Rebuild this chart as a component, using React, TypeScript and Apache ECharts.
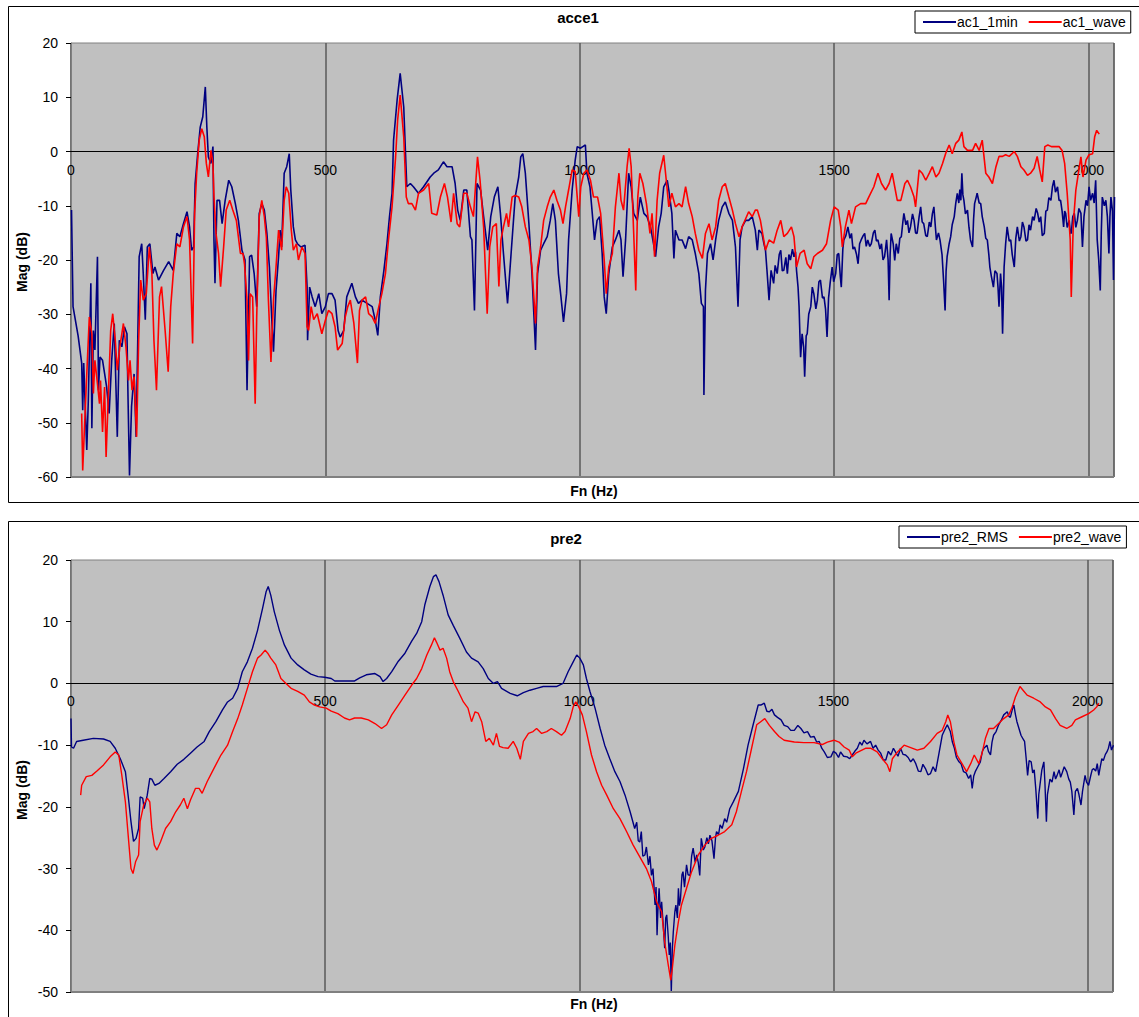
import React, { useEffect, useRef } from "react";
import * as echarts from "echarts";

// ---------- DATA (frequency Hz, magnitude dB) ----------
const freqTicks = [0, 500, 1000, 1500, 2000];

const ac1MinData: number[][] = [
  [1,-10.8],[4,-28.6],[14,-34],[21,-39],[23,-47.7],[25,-39],[31,-55],[34,-46],[39,-24.3],[41,-51],[44,-33],[47,-36.6],[52,-19.4],[54,-44],[57,-37.9],[62,-38.5],[67,-41.5],[70,-43.4],[75,-48.3],[80,-38.5],[85,-31.7],[91,-52.6],[95,-34.8],[100,-36],[105,-32.3],[110,-33.6],[112,-45],[115,-59.7],[119,-47],[124,-41],[128,-52.6],[134,-19.4],[139,-17],[142,-22.5],[146,-31],[150,-17.6],[155,-17],[161,-22.5],[165,-21.3],[172,-23.7],[182,-21.9],[192,-20.3],[201,-21.9],[208,-15.1],[214,-15.7],[221,-13.3],[228,-11.1],[233,-13.9],[237,-18.2],[241,-17.6],[244,-5.9],[249,-0.4],[254,4.5],[259,6.4],[264,11.9],[267,4.5],[270,-1],[275,-2.2],[279,0.9],[281,-16.3],[283,-24.3],[287,-9],[292,-9],[297,-13.3],[303,-9],[310,-5.3],[316,-6.5],[323,-9.6],[329,-12.7],[336,-18.2],[342,-20],[346,-44],[351,-19.4],[355,-19.1],[360,-22.5],[365,-28.6],[370,-11.4],[375,-9.6],[380,-10.8],[385,-15.1],[390,-21.3],[395,-31.7],[398,-36.9],[403,-25.6],[408,-19.4],[411,-14.5],[414,-17.6],[419,-4],[424,-2.8],[429,-0.4],[432,-7.1],[437,-13.9],[441,-16.3],[445,-17],[452,-17.6],[460,-17.3],[464,-25],[465,-34.8],[469,-25],[474,-26.8],[480,-28.6],[487,-26.2],[493,-29.9],[500,-28.6],[506,-26.2],[513,-26.2],[519,-27.4],[525,-33],[529,-34.2],[536,-33],[542,-26.8],[552,-24.3],[559,-26.8],[565,-28],[572,-27.4],[582,-28],[592,-28.6],[598,-31.1],[603,-33.9],[608,-26.8],[615,-21.9],[621,-17],[626,-12],[631,-7.7],[634,2.1],[641,9.5],[647,14.4],
  [654,8.2],[660,-6.5],[667,-5.9],[673,-6.5],[683,-7.7],[693,-6.5],[706,-4.7],[713,-4],[722,-3.4],[732,-1.9],[739,-2.8],[749,-2.8],[755,-5.9],[760,-10.8],[765,-12.7],[772,-7.1],[778,-7.1],[785,-15.7],[788,-16.3],[793,-29.3],[798,-5.9],[805,-7.1],[811,-12],[819,-18.2],[825,-12],[832,-8.4],[839,-6.5],[844,-11.4],[850,-18.8],[858,-28],[865,-18.8],[873,-8.4],[880,-4.7],[884,-1],[888,-0.4],[893,-4],[900,-13.3],[906,-22.5],[913,-36.6],[917,-22.5],[923,-18.2],[929,-17],[936,-15.7],[942,-12.7],[947,-9.6],[952,-12.7],[958,-22.5],[963,-26.8],[968,-31.4],[974,-26.2],[978,-16.3],[985,-7.1],[991,-1.6],[995,0.9],[1001,0.6],[1006,0.9],[1011,1.2],[1014,-4],[1020,-6.5],[1024,-10.8],[1029,-16.3],[1034,-12.7],[1039,-12],[1044,-18.8],[1048,-26.8],[1052,-29.9],[1057,-22.5],[1064,-17.6],[1070,-16.3],[1077,-14.5],[1081,-16.3],[1085,-23.1],[1090,-16.3],[1096,-4],[1101,-6.5],[1106,-11.4],[1113,-12.7],[1119,-8.4],[1126,-11.4],[1132,-12],[1139,-13.9],[1146,-17.6],[1149,-19.4],[1155,-13.9],[1160,-11.4],[1165,-6.5],[1172,-5.3],[1175,-7.1],[1181,-11.4],[1185,-19.7],[1188,-14.5],[1195,-16.3],[1201,-16.3],[1208,-17.9],[1214,-15.7],[1221,-16.3],[1227,-18.8],[1234,-22.5],[1239,-28],[1243,-28.6],[1244,-44.9],[1247,-25.6],[1251,-18.8],[1257,-17],[1262,-20],[1267,-16.3],[1273,-12.7],[1280,-10.2],[1286,-9.3],[1293,-11.4],[1300,-12.7],[1306,-17.6],[1311,-28.6],[1315,-16.3],[1319,-13.9],[1326,-12.7],[1332,-12.7],[1339,-12],[1345,-14.5],[1349,-18.2],
  [1352,-14.5],[1358,-15.1],[1362,-17],[1365,-18.2],[1368,-22],[1372,-27.4],[1376,-21.9],[1381,-24.3],[1384,-21],[1388,-22.5],[1392,-19],[1395,-18.2],[1398,-22],[1401,-21.9],[1405,-19.5],[1408,-22.5],[1411,-19],[1414,-20],[1418,-18],[1421,-19.4],[1424,-18.5],[1426,-21.9],[1429,-25],[1431,-28.6],[1434,-37.9],[1437,-33.6],[1440,-36],[1442,-41.5],[1445,-34],[1447,-33.6],[1450,-30],[1454,-28.6],[1457,-25],[1460,-26.2],[1464,-29],[1467,-27.4],[1470,-24],[1473,-23.7],[1477,-27],[1480,-26.8],[1483,-29],[1486,-34.2],[1489,-27],[1492,-24.3],[1496,-21.3],[1499,-24],[1503,-22.5],[1506,-19],[1509,-18.8],[1512,-23],[1514,-25],[1517,-18],[1519,-16.3],[1523,-15.5],[1527,-13.9],[1531,-16],[1534,-15.1],[1537,-18],[1540,-17.6],[1544,-19],[1547,-20.7],[1550,-17],[1553,-16.3],[1557,-15.5],[1560,-15.1],[1563,-17.5],[1566,-16.3],[1570,-17.5],[1573,-17],[1577,-15],[1580,-14.5],[1583,-16.5],[1586,-16.3],[1590,-18],[1593,-17],[1596,-20],[1599,-19.4],[1603,-16.3],[1606,-20],[1608,-27.4],[1610,-19],[1612,-15.1],[1616,-17],[1619,-20.1],[1622,-17],[1626,-18.8],[1629,-16],[1632,-15.7],[1635,-13],[1637,-11.4],[1641,-13.5],[1644,-12.7],[1647,-15],[1650,-13.9],[1654,-11.5],[1657,-12.7],[1660,-15],[1663,-15.1],[1667,-12],[1670,-10.2],[1673,-13],[1676,-13.3],[1680,-15.5],[1683,-15.7],[1687,-13],[1690,-13.9],[1693,-11.5],[1696,-10.2],[1699,-14],[1701,-16.3],[1705,-15],[1708,-16.3],[1712,-19],[1715,-23.7],[1718,-29.3],[1720,-22],[1722,-19.4],[1726,-17],[1729,-15.7],[1732,-13.5],[1736,-12],[1739,-9.5],[1742,-7.7],[1745,-9.5],[1747,-7],[1749,-9],[1751,-4],[1753,-8],[1755,-9],[1758,-11.5],[1762,-10.8],[1765,-14],[1768,-16.3],[1772,-17.6],[1774,-12.5],[1776,-9.6],[1779,-8.5],[1781,-7.7],[1785,-9.5],[1788,-9.6],[1791,-12],[1795,-13.9],[1798,-16],[1801,-16.3],[1804,-19],[1806,-21.3],[1809,-23],[1813,-25],[1816,-22],[1820,-22.5],[1822,-25],[1824,-28.6],[1827,-22.5],[1829,-25],[1831,-33.6],[1834,-21.3],[1837,-17],[1840,-13.9],[1844,-16.5],[1847,-16.3],[1850,-19],[1854,-21.3],[1857,-16],[1860,-13.9],[1864,-16.5],[1867,-15.7],[1870,-13],[1873,-13.9],[1877,-16.5],[1880,-16.3],[1883,-13.5],[1886,-14.5],[1890,-12],[1893,-12.7],[1897,-10.5],[1900,-11.4],[1903,-13],[1906,-12],[1909,-15.5],[1913,-15.1],[1916,-11],[1919,-10.8],[1922,-8.5],[1926,-9],[1929,-6.5],[1932,-5.3],[1935,-7.5],[1939,-6.5],[1942,-9],[1945,-9],[1948,-11],[1951,-13.9],[1953,-11],[1955,-11.4],[1958,-14],[1962,-12.7],[1964,-15],[1966,-15.1],[1969,-12],[1972,-11.4],[1975,-14],[1978,-12.7],[1981,-10.5],[1985,-11.4],[1988,-17.6],[1991,-12],[1995,-9],[1998,-10],[2001,-6.5],[2004,-9],[2008,-7.7],[2011,-9.5],[2014,-5.3],[2017,-16.3],[2020,-20],[2023,-25.6],[2025,-15],[2027,-8.4],[2031,-10],[2034,-9],[2037,-12],[2040,-18.8],[2042,-12],[2044,-8.4],[2047,-11],[2049,-23.7],[2051,-8.4]
];

const ac1WaveData: number[][] = [
  [21,-48.3],[23,-58.8],[26,-52],[31,-41],[36,-30.5],[41,-33.6],[44,-44.6],[47,-38.5],[52,-42.8],[56,-46.5],[58,-42.2],[62,-51.7],[66,-43.4],[69,-56.3],[73,-45.9],[78,-33],[82,-29.9],[87,-34.8],[91,-40.3],[96,-36],[103,-31.7],[108,-36],[113,-42.2],[116,-38.5],[120,-44],[124,-41.5],[129,-52.6],[133,-34.8],[137,-23.7],[142,-27.4],[148,-26.2],[154,-17.6],[159,-22.5],[163,-34.8],[168,-44],[174,-26.8],[178,-24.9],[185,-33],[191,-40.6],[196,-28.6],[201,-22.5],[208,-17],[214,-17.6],[221,-13.9],[228,-12],[233,-16.3],[235,-22.5],[239,-35.4],[243,-11.4],[247,-4],[252,2.1],[257,4.2],[262,2.7],[266,-2.2],[270,-4.7],[275,0.2],[279,-2.2],[281,-8.4],[285,-15.1],[290,-18.8],[294,-24.9],[300,-17.6],[305,-10.8],[312,-9],[318,-10.8],[325,-12.7],[333,-18.8],[338,-18.8],[341,-20.7],[346,-27.4],[349,-38.5],[352,-26.2],[357,-26.8],[362,-46.5],[365,-30.5],[370,-12],[375,-9],[380,-12],[384,-15.9],[388,-27.4],[393,-38.8],[398,-27.4],[403,-21.3],[408,-14.5],[414,-18.2],[419,-9],[423,-6.5],[428,-7.7],[433,-14.5],[437,-18.2],[443,-17],[447,-20],[454,-17.6],[460,-18.8],[464,-32.3],[467,-33],[472,-28.6],[477,-31],[484,-29.9],[493,-33.6],[500,-31.1],[506,-29.3],[513,-29.9],[519,-32.3],[524,-36.6],[533,-35.4],[539,-30.5],[544,-28.6],[549,-27.4],[556,-31.7],[563,-39],[567,-29.3],[572,-27.4],[579,-26.8],[585,-29.9],[592,-30.5],[598,-31.7],[605,-28.6],[611,-26.2],[618,-22.5],[624,-16.3],[631,-10.2],[638,-1],[642,5.8],[647,10.4],
  [654,2.7],[659,-8.4],[663,-9.6],[670,-9.6],[677,-10.8],[683,-7.7],[693,-7.1],[703,-5.9],[709,-11.4],[719,-11.7],[726,-8.4],[734,-5.9],[740,-8.4],[747,-13],[752,-7.7],[759,-13.3],[764,-13.9],[772,-7.7],[778,-7.7],[785,-10.2],[791,-12],[799,-1],[804,-5.3],[811,-13.9],[818,-29.9],[823,-17.6],[829,-13.9],[836,-13.3],[841,-24.9],[845,-16.3],[850,-13.9],[856,-11.4],[860,-13.9],[867,-8.4],[873,-8.1],[880,-8.4],[886,-10.2],[893,-13.9],[900,-16.3],[906,-21.3],[913,-31.7],[917,-21.3],[923,-17.6],[929,-12.7],[936,-10.2],[942,-8.4],[949,-7.1],[955,-9],[962,-10.8],[967,-13.3],[972,-10.2],[978,-7.1],[985,-3.4],[991,-3.7],[998,-12],[1002,-6.5],[1008,-4],[1014,-3.4],[1021,-5.3],[1027,-8.4],[1035,-8.4],[1041,-11.4],[1048,-20],[1052,-26.2],[1057,-21.3],[1064,-18.8],[1070,-10.2],[1077,-4],[1081,-9],[1086,-10.8],[1093,-2.8],[1097,0.6],[1101,-2.8],[1106,-15.1],[1110,-25.6],[1114,-8.4],[1118,-4],[1124,-5.9],[1131,-9.6],[1138,-15.1],[1142,-11.4],[1147,-19.4],[1152,-9],[1157,-4],[1165,-0.7],[1170,-5.3],[1175,-10.2],[1181,-7.7],[1188,-10.2],[1195,-9.6],[1201,-10.2],[1208,-6.5],[1214,-9.6],[1221,-12],[1227,-15.1],[1234,-18.2],[1241,-19.7],[1247,-15.1],[1254,-13.3],[1260,-16.3],[1267,-13.9],[1273,-9],[1280,-6.5],[1286,-5.9],[1293,-8.4],[1300,-10.8],[1306,-13.3],[1313,-15.7],[1319,-13.9],[1326,-12.4],[1332,-11.1],[1339,-12],[1345,-10.8],[1349,-10.8],
  [1355,-12.7],[1365,-18.2],[1372,-16.3],[1381,-16.9],[1388,-14.5],[1395,-12.7],[1401,-15.7],[1408,-15.1],[1416,-13.9],[1421,-15.7],[1426,-21.3],[1433,-18.8],[1441,-18.2],[1447,-20.7],[1454,-21.6],[1460,-19.4],[1467,-18.8],[1477,-18.2],[1485,-17],[1493,-12.7],[1500,-10.2],[1508,-10.8],[1513,-13.9],[1516,-17.6],[1522,-13.9],[1529,-10.8],[1534,-13.3],[1542,-10.2],[1552,-9.6],[1562,-9.6],[1568,-8.4],[1578,-6.5],[1586,-4],[1593,-5.9],[1601,-7.1],[1608,-5.9],[1614,-4],[1619,-6.5],[1624,-9],[1631,-9],[1639,-5.9],[1644,-5.3],[1650,-6.5],[1657,-8.4],[1660,-10.2],[1667,-3.4],[1673,-4],[1680,-5.3],[1687,-4],[1693,-2.8],[1700,-4.7],[1706,-4],[1713,-2.2],[1719,-0.4],[1726,1.2],[1732,-0.4],[1739,1.5],[1745,2.1],[1751,3.6],[1755,0.9],[1762,0.2],[1772,0.2],[1778,1.5],[1785,0.2],[1791,2.1],[1798,-4],[1804,-4.7],[1811,-5.9],[1818,-2.8],[1824,-0.9],[1831,-0.9],[1837,-0.6],[1844,-0.9],[1854,0],[1860,-0.9],[1867,-2.8],[1873,-3.4],[1880,-4.4],[1886,-4],[1893,-3.1],[1899,-0.9],[1904,-3.4],[1909,-5.6],[1914,0.9],[1920,1.2],[1927,0.9],[1934,0.9],[1942,0.9],[1948,0.2],[1953,-2.2],[1958,-7.7],[1964,-16.3],[1966,-26.8],[1970,-13.3],[1975,-7.1],[1980,-4],[1985,-1],[1989,-4.7],[1995,-1.6],[2001,-0.6],[2008,-0.4],[2012,2.7],[2016,3.9],[2021,3.2]
];

const pre2RmsData: number[][] = [
  [0,-5.7],[1,-10.3],[5,-10.5],[11,-9.4],[24,-9.2],[44,-8.9],[64,-9],[77,-9.4],[87,-10.5],[97,-12.2],[107,-14.3],[113,-18.6],[118,-22.4],[123,-25.6],[128,-25.1],[133,-23.5],[136,-18.4],[141,-18.6],[144,-20.3],[150,-18.1],[155,-15.4],[159,-15.5],[165,-16.5],[173,-16.2],[183,-15.4],[196,-14.3],[209,-13.1],[222,-12.3],[235,-11.3],[248,-10.3],[262,-9.4],[272,-7.8],[285,-6.2],[298,-4.3],[308,-3],[318,-2.4],[328,-0.8],[337,1.9],[347,3.5],[357,5.7],[367,8.6],[377,12.2],[384,14.9],[388,15.7],[393,14.3],[400,11.6],[410,8.6],[420,6.2],[433,4.1],[446,3],[459,2.2],[472,1.5],[486,1.1],[499,1],[512,0.8],[519,0.4],[538,0.4],[558,0.4],[568,0.9],[581,1.4],[598,1.6],[608,1.1],[614,0.3],[621,0.8],[631,1.9],[644,3.6],[657,4.9],[670,6.8],[680,8.1],[690,10],[696,12.7],[706,15.7],[713,17.3],[718,17.6],[724,16.5],[732,14.3],[742,11.1],[752,9.4],[765,7.3],[778,5.1],[788,4.1],[801,3.5],[811,2.4],[821,0.8],[831,0],[839,0.3],[847,-0.8],[864,-1.6],[878,-2],[890,-1.5],[903,-1.1],[916,-0.8],[929,-0.5],[942,-0.5],[955,-0.5],[968,0],[978,1.9],[988,3.5],[995,4.6],[1001,4.1],[1008,3],[1014,0.8],[1021,-1.3],[1031,-4],[1041,-7.3],[1050,-10],[1060,-12.2],[1070,-14.3],[1080,-15.9],[1090,-18.1],[1100,-20.8],[1109,-23.5],[1113,-22.5],[1116,-25.5],[1119,-25.7],[1122,-24],[1125,-28],[1129,-27.8],[1132,-26.5],[1136,-29.4],[1139,-28],[1142,-31.1],[1145,-30],[1149,-35.9],[1151,-33],[1153,-40.8],[1155,-36],[1157,-33.2],[1160,-38],[1162,-35.4],[1165,-39],[1168,-42.9],[1170,-38],[1172,-37.5],[1175,-41],[1177,-44],[1179,-42],[1181,-50],[1183,-43],[1185,-40.2],[1188,-37],[1190,-35.9],[1193,-38],[1195,-33.2],[1197,-36],[1199,-35],[1202,-31],[1204,-30.5],[1207,-33],[1211,-29.4],[1214,-31],[1218,-31.1],[1221,-28],[1224,-26.7],[1228,-29],[1231,-27.8],[1234,-29],[1237,-31.1],[1240,-25.1],[1244,-27],[1247,-26.5],[1251,-25],[1254,-26],[1257,-24.6],[1261,-25.5],[1265,-28.4],[1268,-25],[1270,-24],[1274,-24.5],[1277,-22.9],[1281,-23.5],[1286,-21.9],[1290,-22.5],[1296,-20.3],[1303,-19.2],[1313,-17.5],[1323,-13.8],[1332,-10],[1342,-6.7],[1352,-3.5],[1357,-3.5],[1364,-3.2],[1369,-4.5],[1374,-4.6],[1379,-4.2],[1384,-5.1],[1390,-5.5],[1397,-5.9],[1403,-6.8],[1410,-7],[1416,-7.6],[1423,-7.6],[1430,-6.8],[1436,-7.3],[1442,-8],[1449,-7.8],[1455,-8.7],[1462,-8.6],[1467,-9.5],[1472,-9.4],[1477,-10.5],[1482,-11.1],[1488,-12],[1495,-11.9],[1500,-11],[1505,-11.3],[1510,-12],[1514,-11.1],[1520,-11.8],[1527,-11.9],[1532,-12.2],[1537,-11.6],[1542,-11],[1547,-10.5],[1552,-9.5],[1556,-10],[1560,-9.2],[1566,-9.8],[1573,-9.4],[1578,-10.5],[1583,-10],[1588,-10.8],[1593,-11.3],[1598,-12.4],[1603,-12.4],[1608,-11],[1613,-11.6],[1618,-10.5],[1622,-11.1],[1627,-11.8],[1632,-10.5],[1637,-11.5],[1642,-11.6],[1647,-12],[1652,-12.7],[1657,-12.2],[1662,-13],[1667,-14.2],[1672,-14.3],[1676,-13.1],[1681,-13.8],[1686,-14.8],[1691,-14.6],[1696,-13.5],[1701,-14.3],[1707,-11.6],[1714,-8.4],[1719,-7.5],[1724,-6.7],[1730,-7.8],[1734,-9.5],[1738,-10.5],[1742,-12],[1747,-12.7],[1751,-13],[1756,-14.3],[1761,-14.5],[1766,-15.4],[1770,-14.8],[1773,-17],[1776,-15],[1779,-14.3],[1784,-13.5],[1789,-12.7],[1793,-11],[1796,-10.5],[1802,-10],[1805,-11],[1809,-11.6],[1812,-9.5],[1815,-8.4],[1820,-7.8],[1825,-6.7],[1830,-6],[1835,-5.1],[1842,-4.6],[1845,-5.3],[1848,-5.5],[1852,-4.2],[1855,-3.5],[1858,-5],[1861,-6.2],[1865,-7.3],[1869,-8.4],[1873,-9],[1876,-9.4],[1879,-12],[1882,-14.9],[1885,-12.5],[1889,-12.7],[1892,-14.5],[1895,-14],[1898,-17],[1902,-21.9],[1904,-18],[1907,-16],[1910,-14],[1914,-12.7],[1916,-16],[1919,-22.4],[1921,-18],[1923,-17],[1926,-15.5],[1930,-16],[1934,-14.3],[1937,-15.5],[1940,-14.9],[1944,-14],[1947,-15.2],[1950,-14.5],[1954,-13.5],[1959,-14.3],[1963,-15.5],[1966,-16],[1969,-17.5],[1973,-21.3],[1976,-17.5],[1980,-17],[1983,-18],[1987,-19.7],[1990,-17.5],[1995,-14.9],[1998,-16],[2002,-16.5],[2006,-15],[2009,-14],[2012,-13.8],[2016,-14.2],[2019,-13],[2022,-14.9],[2025,-13.5],[2028,-12.2],[2031,-12.5],[2035,-11.5],[2038,-11.1],[2041,-10.5],[2044,-9.4],[2047,-10.8],[2051,-10]
];

const pre2WaveData: number[][] = [
  [19,-18.1],[21,-16.5],[30,-15.1],[41,-14.9],[51,-14.2],[64,-13.2],[77,-11.9],[87,-11.1],[94,-11.6],[100,-14.9],[107,-19.2],[113,-25.1],[118,-30],[122,-30.8],[127,-28.9],[133,-27.8],[136,-22.4],[143,-19.7],[150,-18.6],[155,-19.2],[159,-23.5],[164,-26.2],[169,-27],[176,-25.7],[186,-23.5],[196,-22.4],[206,-20.8],[215,-19.7],[222,-18.6],[229,-20.3],[235,-18.9],[245,-17],[252,-17],[258,-17.8],[268,-15.9],[281,-13.8],[295,-11.6],[308,-10],[318,-7.8],[328,-5.7],[337,-3.5],[347,-0.8],[357,1.9],[367,4.1],[374,4.6],[382,5.4],[387,4.9],[393,4.1],[403,3],[413,0.8],[423,0],[433,-0.8],[446,-1.3],[459,-1.9],[469,-3],[479,-3.5],[489,-3.8],[502,-4],[512,-4.5],[525,-4.9],[538,-5.6],[548,-5.9],[558,-5.6],[571,-5.6],[585,-5.9],[598,-6.5],[611,-7.3],[621,-6.7],[631,-5.1],[644,-3.5],[657,-1.9],[670,-0.3],[680,0.8],[690,2.4],[700,4.6],[709,6.2],[715,7.4],[719,6.7],[726,5.4],[732,5.7],[739,4.1],[745,1.9],[752,0.3],[762,-1.3],[772,-3],[781,-4],[788,-6.2],[795,-4.6],[801,-4.8],[808,-6.2],[816,-9.4],[823,-8.9],[831,-10],[837,-8.1],[843,-10.2],[850,-10.4],[860,-10.5],[870,-9.4],[877,-10.5],[884,-12.3],[890,-9.4],[900,-8.1],[909,-7.8],[916,-7.3],[926,-8.1],[936,-7.8],[945,-7.3],[955,-7.8],[965,-8.4],[972,-7.8],[982,-5.7],[988,-3.8],[993,-3],[999,-3.8],[1006,-5.1],[1014,-7.8],[1024,-11.6],[1034,-14.3],[1044,-16.5],[1054,-18.1],[1067,-20.3],[1080,-21.9],[1093,-24],[1106,-26.2],[1119,-28.1],[1132,-30],[1142,-32.1],[1152,-35.4],[1162,-37],[1168,-41.9],[1175,-45.6],[1180,-48.1],[1183,-46.2],[1188,-42.4],[1195,-38.6],[1201,-35.9],[1211,-33.2],[1221,-30.5],[1234,-27.8],[1247,-26.2],[1260,-25.1],[1273,-24.6],[1286,-24],[1300,-22.9],[1309,-20.8],[1319,-17.5],[1329,-14.3],[1339,-10.5],[1349,-6.7],[1357,-6.2],[1365,-5.7],[1374,-6.8],[1384,-7.8],[1393,-8.6],[1403,-9.2],[1423,-9.5],[1442,-9.6],[1462,-9.6],[1478,-9.9],[1488,-9.5],[1501,-9.2],[1511,-9.5],[1521,-10.3],[1531,-10.8],[1537,-11.9],[1544,-11.3],[1554,-10.9],[1564,-10.5],[1573,-10.5],[1586,-11.1],[1596,-12.2],[1606,-13.2],[1611,-14.3],[1616,-12.2],[1626,-11.1],[1639,-10],[1652,-10.4],[1665,-10.8],[1678,-10.5],[1691,-9.4],[1704,-8.1],[1714,-7.6],[1721,-6.2],[1725,-5.1],[1730,-6.2],[1737,-9.5],[1743,-11.6],[1753,-13],[1762,-14.3],[1770,-13],[1777,-11.6],[1786,-13],[1793,-11.1],[1799,-8.9],[1806,-7.3],[1815,-7.3],[1825,-6.5],[1835,-5.7],[1845,-5.1],[1851,-4],[1858,-2.2],[1867,-0.5],[1873,-1.1],[1881,-1.9],[1894,-2.4],[1907,-3],[1917,-3.8],[1927,-4.3],[1937,-5.7],[1946,-6.8],[1959,-7.3],[1969,-6.8],[1976,-5.9],[1989,-5.4],[2002,-4.9],[2012,-4.3],[2018,-3.8],[2022,-3.2]
];

const topSeriesNames = ["ac1_1min", "ac1_wave"];
const bottomSeriesNames = ["pre2_RMS", "pre2_wave"];
const chartTitles = ["acce1", "pre2"];
const xAxisTitle = "Fn (Hz)";
const yAxisTitle = "Mag (dB)";

// ---------- STYLE / LAYOUT ----------
const FONT = 'Arial, "Liberation Sans", Helvetica, sans-serif';
const NAVY = "#000080";
const RED = "#FF0000";
const PLOT_BG = "#C0C0C0";

const TOP_GRID = { left: 71, top: 43, width: 1043, height: 434, min: -60, max: 20 };
const BOT_GRID = { left: 71, top: 560, width: 1042, height: 432, min: -50, max: 20 };

// labels sit just under the zero line (ECharts keeps onZero labels at the grid edge,
// so shift them up by the distance from the zero line to the grid bottom)
function zeroLabelMargin(g: typeof TOP_GRID) {
  const zeroY = g.top + (g.max / (g.max - g.min)) * g.height;
  const bottom = g.top + g.height;
  return zeroY + 11 - bottom;
}

function makeXAxis(gridIndex: number, g: typeof TOP_GRID) {
  return {
    type: "value",
    gridIndex,
    min: freqTicks[0],
    max: 2050,
    interval: freqTicks[1] - freqTicks[0],
    axisLine: { show: true, onZero: true, lineStyle: { color: "#000", width: 1 } },
    axisTick: { show: false },
    axisLabel: {
      show: true,
      color: "#000",
      fontSize: 14,
      fontFamily: FONT,
      margin: zeroLabelMargin(g),
      showMaxLabel: false,
      showMinLabel: true,
      formatter: (v: number) => String(v),
    },
    splitLine: { show: true, lineStyle: { color: "#5a5a5a", width: 1.5 } },
  };
}

function makeYAxis(gridIndex: number, g: typeof TOP_GRID) {
  return {
    type: "value",
    gridIndex,
    min: g.min,
    max: g.max,
    interval: 10,
    axisLine: { show: true, onZero: false, lineStyle: { color: "#808080", width: 1 } },
    axisTick: { show: true, inside: false, length: 5, lineStyle: { color: "#000" } },
    axisLabel: { color: "#000", fontSize: 14, fontFamily: FONT, margin: 13 },
    splitLine: { show: false },
  };
}

function lineSeries(name: string, data: number[][], color: string, idx: number, width: number) {
  return {
    name,
    type: "line",
    xAxisIndex: idx,
    yAxisIndex: idx,
    data,
    showSymbol: false,
    symbol: "none",
    color,
    itemStyle: { color },
    lineStyle: { color, width },
    emphasis: { disabled: true },
    z: 3,
  };
}

function legendCfg(names: string[], left: number, top: number) {
  return {
    data: names,
    left,
    top,
    orient: "horizontal",
    icon: "rect",
    itemWidth: 33,
    itemHeight: 2,
    itemGap: 11,
    padding: [4, 5, 4, 8],
    borderColor: "#000",
    borderWidth: 1,
    backgroundColor: "#fff",
    textStyle: { color: "#000", fontSize: 14, fontFamily: FONT, padding: [0, 0, 0, -4] },
    selectedMode: false,
  };
}

export default function App() {
  const ref = useRef<HTMLDivElement>(null);

  useEffect(() => {
    if (!ref.current) return;
    const chart = echarts.init(ref.current, undefined, { renderer: "svg" });

    const titleStyle = { fill: "#000", fontSize: 15, fontWeight: "bold", fontFamily: FONT };
    const axisTitleStyle = { fill: "#000", fontSize: 14, fontWeight: "bold", fontFamily: FONT };
    const gridBase = { show: true, backgroundColor: PLOT_BG, borderColor: "#808080", borderWidth: 1, containLabel: false };

    chart.setOption({
      animation: false,
      backgroundColor: "#fff",
      grid: [
        { ...gridBase, left: TOP_GRID.left, top: TOP_GRID.top, width: TOP_GRID.width, height: TOP_GRID.height },
        { ...gridBase, left: BOT_GRID.left, top: BOT_GRID.top, width: BOT_GRID.width, height: BOT_GRID.height },
      ],
      xAxis: [makeXAxis(0, TOP_GRID), makeXAxis(1, BOT_GRID)],
      yAxis: [makeYAxis(0, TOP_GRID), makeYAxis(1, BOT_GRID)],
      legend: [legendCfg(topSeriesNames, 915, 11), legendCfg(bottomSeriesNames, 899, 526)],
      tooltip: { show: false },
      series: [
        lineSeries(topSeriesNames[0], ac1MinData, NAVY, 0, 1.6),
        lineSeries(topSeriesNames[1], ac1WaveData, RED, 0, 1.6),
        lineSeries(bottomSeriesNames[0], pre2RmsData, NAVY, 1, 1.4),
        lineSeries(bottomSeriesNames[1], pre2WaveData, RED, 1, 1.4),
      ],
      graphic: [
        { type: "rect", shape: { x: 8.5, y: 6.5, width: 1140, height: 496 }, style: { fill: "none", stroke: "#000", lineWidth: 1 }, z: -1, silent: true },
        { type: "rect", shape: { x: 8.5, y: 521.5, width: 1140, height: 520 }, style: { fill: "none", stroke: "#000", lineWidth: 1 }, z: -1, silent: true },
        { type: "line", shape: { x1: 71, y1: 477, x2: 1114, y2: 477 }, style: { stroke: "#808080", lineWidth: 2 }, z: 10, silent: true },
        { type: "line", shape: { x1: 71, y1: 992, x2: 1113, y2: 992 }, style: { stroke: "#808080", lineWidth: 2 }, z: 10, silent: true },
        { type: "text", x: 578, y: 17, style: { text: chartTitles[0], ...titleStyle, textAlign: "center", textVerticalAlign: "middle" }, silent: true },
        { type: "text", x: 566, y: 538, style: { text: chartTitles[1], ...titleStyle, textAlign: "center", textVerticalAlign: "middle" }, silent: true },
        { type: "text", x: 594, y: 491, style: { text: xAxisTitle, ...axisTitleStyle, textAlign: "center", textVerticalAlign: "middle" }, silent: true },
        { type: "text", x: 594, y: 1004, style: { text: xAxisTitle, ...axisTitleStyle, textAlign: "center", textVerticalAlign: "middle" }, silent: true },
        { type: "text", x: 22, y: 262, rotation: Math.PI / 2, style: { text: yAxisTitle, ...axisTitleStyle, textAlign: "center", textVerticalAlign: "middle" }, silent: true },
        { type: "text", x: 22, y: 790, rotation: Math.PI / 2, style: { text: yAxisTitle, ...axisTitleStyle, textAlign: "center", textVerticalAlign: "middle" }, silent: true },
      ],
    });

    return () => {
      chart.dispose();
    };
  }, []);

  return (
    <div
      ref={ref}
      style={{ position: "absolute", left: 0, top: 0, width: 1139, height: 1017 }}
    />
  );
}
